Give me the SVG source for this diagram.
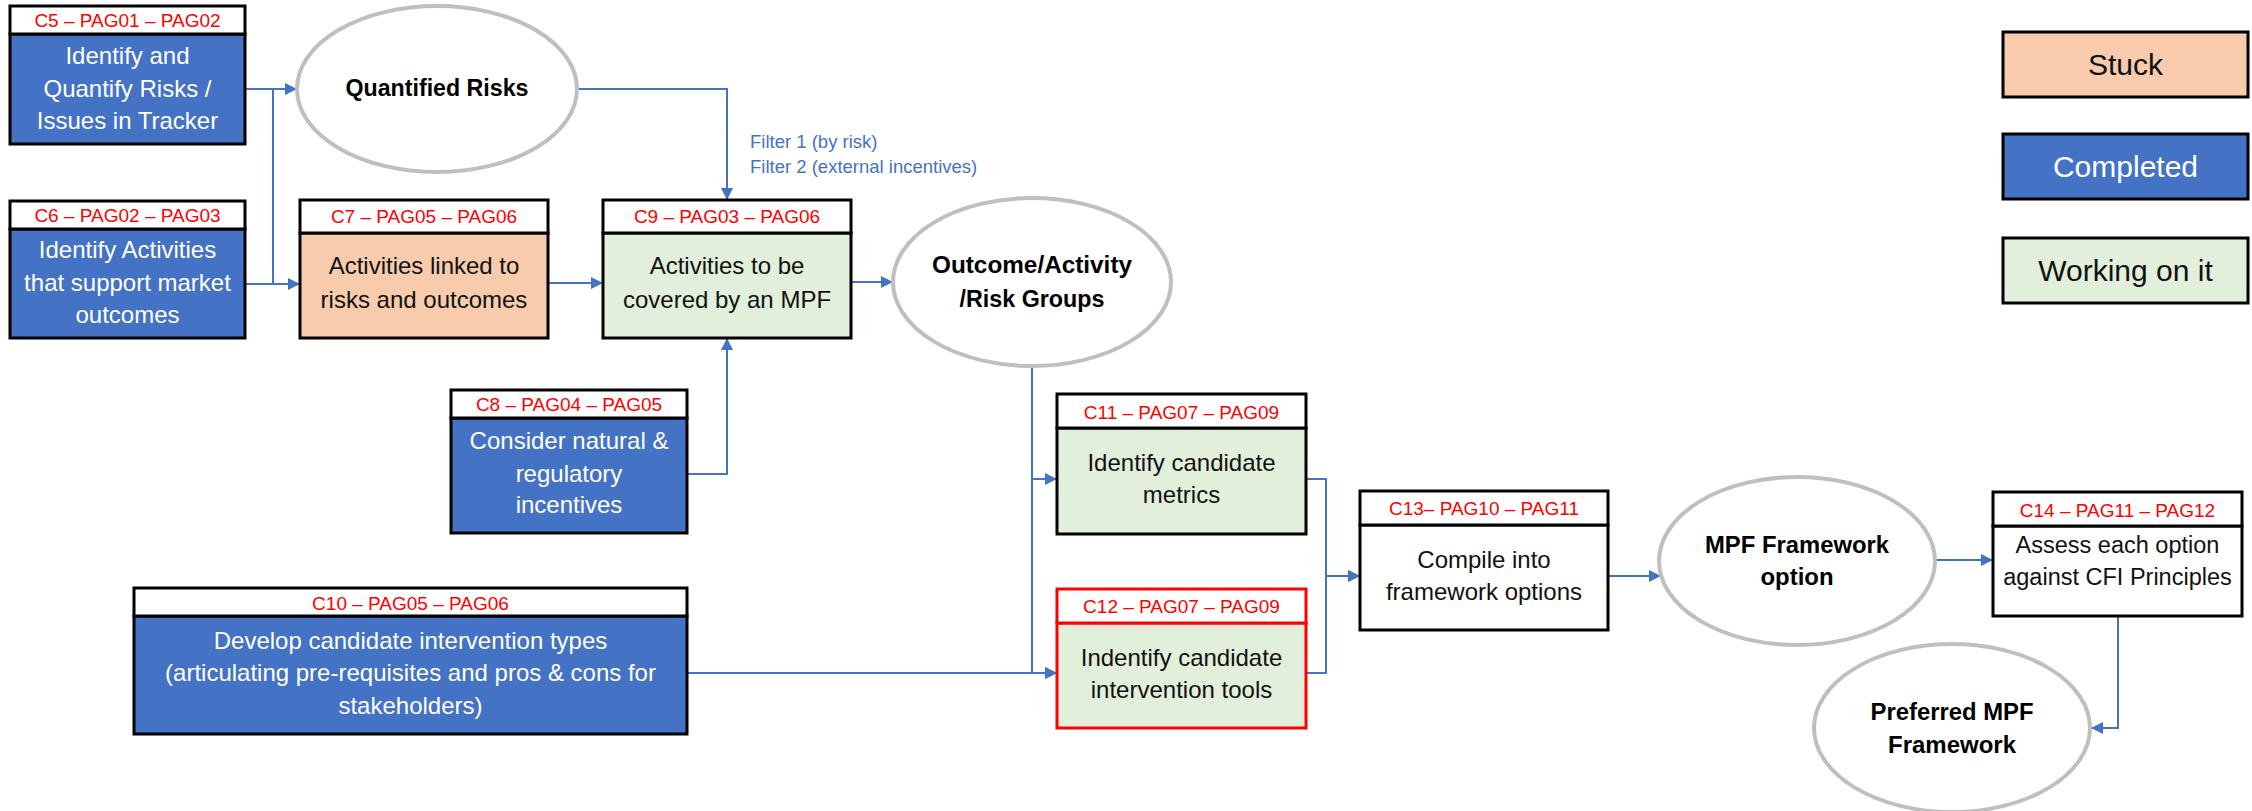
<svg xmlns="http://www.w3.org/2000/svg" width="2252" height="811" viewBox="0 0 2252 811">
  <style>
    .box { stroke: #000; stroke-width: 3; }
    .hdr { fill: #fff; stroke: #000; stroke-width: 3; }
    .done { fill: #4472C4; }
    .stuck { fill: #F8CBAD; }
    .work { fill: #E2EFDA; }
    .plain { fill: #fff; }
    .red { stroke: #FF0000; }
    .tag { font-family: "Liberation Sans", Arial, sans-serif; font-size: 19px; fill: #FF0000; text-anchor: middle; }
    .txt { font-family: "Liberation Sans", Arial, sans-serif; font-size: 24px; fill: #111; text-anchor: middle; }
    .wht { fill: #fff; }
    .oval { fill: #fff; stroke: #BFBFBF; stroke-width: 4; }
    .otxt { font-family: "Liberation Sans", Arial, sans-serif; font-size: 23px; font-weight: bold; fill: #000; text-anchor: middle; }
    .lnk { fill: none; stroke: #4472C4; stroke-width: 2; }
    .arr { marker-end: url(#head); }
    .note { font-family: "Liberation Sans", Arial, sans-serif; font-size: 18.5px; fill: #4472C4; }
    .leg { font-family: "Liberation Sans", Arial, sans-serif; font-size: 30px; text-anchor: middle; }
  </style>
  <defs>
    <marker id="head" viewBox="0 0 12 12" refX="12" refY="6" markerWidth="12" markerHeight="12" markerUnits="userSpaceOnUse" orient="auto">
      <path d="M0,0 L12,6 L0,12 Z" fill="#4472C4"/>
    </marker>
  </defs>

  <rect width="2252" height="811" fill="#fff"/>

  <!-- connectors -->
  <g id="connectors">
    <path class="lnk arr" d="M245,89 H273 V284 H300"/>
    <path class="lnk arr" d="M245,284 H273 V89 H297"/>
    <path class="lnk arr" d="M577,89 H727 V200"/>
    <path class="lnk arr" d="M548,283 H603"/>
    <path class="lnk arr" d="M687,474 H727 V338"/>
    <path class="lnk arr" d="M851,282 H893"/>
    <path class="lnk arr" d="M1032,366 V479 H1057"/>
    <path class="lnk arr" d="M1032,366 V673 H1057"/>
    <path class="lnk arr" d="M687,673 H1057"/>
    <path class="lnk arr" d="M1306,479 H1326 V576 H1360"/>
    <path class="lnk arr" d="M1306,673 H1326 V576 H1360"/>
    <path class="lnk arr" d="M1608,576 H1661"/>
    <path class="lnk arr" d="M1935,560 H1993"/>
    <path class="lnk arr" d="M2118,616 V728 H2091"/>
    <text class="note" x="750" y="148">Filter 1 (by risk)</text>
    <text class="note" x="750" y="173">Filter 2 (external incentives)</text>
  </g>

  <!-- C5 -->
  <g id="c5">
    <rect class="box done" x="10" y="34" width="235" height="110"/>
    <rect class="hdr" x="10" y="6" width="235" height="28"/>
    <text class="tag" x="127.5" y="27">C5 – PAG01 – PAG02</text>
    <text class="txt wht" x="127.5" y="64">Identify and</text>
    <text class="txt wht" x="127.5" y="97">Quantify Risks /</text>
    <text class="txt wht" x="127.5" y="129">Issues in Tracker</text>
  </g>

  <!-- C6 -->
  <g id="c6">
    <rect class="box done" x="10" y="229" width="235" height="109"/>
    <rect class="hdr" x="10" y="201" width="235" height="28"/>
    <text class="tag" x="127.5" y="222">C6 – PAG02 – PAG03</text>
    <text class="txt wht" x="127.5" y="258">Identify Activities</text>
    <text class="txt wht" x="127.5" y="291">that support market</text>
    <text class="txt wht" x="127.5" y="323">outcomes</text>
  </g>

  <!-- Quantified Risks -->
  <g id="quantified-risks">
    <ellipse class="oval" cx="437" cy="89" rx="140" ry="83"/>
    <text class="otxt" x="437" y="96" textLength="183" lengthAdjust="spacingAndGlyphs">Quantified Risks</text>
  </g>

  <!-- C7 -->
  <g id="c7">
    <rect class="box stuck" x="300" y="233" width="248" height="105"/>
    <rect class="hdr" x="300" y="200" width="248" height="33"/>
    <text class="tag" x="424" y="223">C7 – PAG05 – PAG06</text>
    <text class="txt" x="424" y="274">Activities linked to</text>
    <text class="txt" x="424" y="308">risks and outcomes</text>
  </g>

  <!-- C9 -->
  <g id="c9">
    <rect class="box work" x="603" y="233" width="248" height="105"/>
    <rect class="hdr" x="603" y="200" width="248" height="33"/>
    <text class="tag" x="727" y="223">C9 – PAG03 – PAG06</text>
    <text class="txt" x="727" y="274">Activities to be</text>
    <text class="txt" x="727" y="308">covered by an MPF</text>
  </g>

  <!-- C8 -->
  <g id="c8">
    <rect class="box done" x="451" y="418" width="236" height="115"/>
    <rect class="hdr" x="451" y="390" width="236" height="28"/>
    <text class="tag" x="569" y="411">C8 – PAG04 – PAG05</text>
    <text class="txt wht" x="569" y="449">Consider natural &amp;</text>
    <text class="txt wht" x="569" y="482">regulatory</text>
    <text class="txt wht" x="569" y="513">incentives</text>
  </g>

  <!-- Outcome/Activity/Risk Groups -->
  <g id="groups">
    <ellipse class="oval" cx="1032" cy="282" rx="139" ry="84"/>
    <text class="otxt" x="1032" y="273" textLength="200" lengthAdjust="spacingAndGlyphs">Outcome/Activity</text>
    <text class="otxt" x="1032" y="307" textLength="145" lengthAdjust="spacingAndGlyphs">/Risk Groups</text>
  </g>

  <!-- C10 -->
  <g id="c10">
    <rect class="box done" x="134" y="616" width="553" height="118" stroke-width="4"/>
    <rect class="hdr" x="134" y="588" width="553" height="28"/>
    <text class="tag" x="410.5" y="610">C10 – PAG05 – PAG06</text>
    <text class="txt wht" x="410.5" y="649">Develop candidate intervention types</text>
    <text class="txt wht" x="410.5" y="681">(articulating pre-requisites and pros &amp; cons for</text>
    <text class="txt wht" x="410.5" y="714">stakeholders)</text>
  </g>

  <!-- C11 -->
  <g id="c11">
    <rect class="box work" x="1057" y="428" width="249" height="106"/>
    <rect class="hdr" x="1057" y="394" width="249" height="34"/>
    <text class="tag" x="1181.5" y="419">C11 – PAG07 – PAG09</text>
    <text class="txt" x="1181.5" y="471">Identify candidate</text>
    <text class="txt" x="1181.5" y="503">metrics</text>
  </g>

  <!-- C12 -->
  <g id="c12">
    <rect class="box work red" x="1057" y="623" width="249" height="105"/>
    <rect class="hdr red" x="1057" y="589" width="249" height="34"/>
    <text class="tag" x="1181.5" y="613">C12 – PAG07 – PAG09</text>
    <text class="txt" x="1181.5" y="666">Indentify candidate</text>
    <text class="txt" x="1181.5" y="698">intervention tools</text>
  </g>

  <!-- C13 -->
  <g id="c13">
    <rect class="box plain" x="1360" y="525" width="248" height="105"/>
    <rect class="hdr" x="1360" y="491" width="248" height="34"/>
    <text class="tag" x="1484" y="515">C13– PAG10 – PAG11</text>
    <text class="txt" x="1484" y="568">Compile into</text>
    <text class="txt" x="1484" y="600">framework options</text>
  </g>

  <!-- MPF Framework option -->
  <g id="mpf-option">
    <ellipse class="oval" cx="1797" cy="561" rx="138" ry="84"/>
    <text class="otxt" x="1797" y="553" textLength="184" lengthAdjust="spacingAndGlyphs">MPF Framework</text>
    <text class="otxt" x="1797" y="585" textLength="73" lengthAdjust="spacingAndGlyphs">option</text>
  </g>

  <!-- C14 -->
  <g id="c14">
    <rect class="box plain" x="1993" y="526" width="249" height="90"/>
    <rect class="hdr" x="1993" y="492" width="249" height="34"/>
    <text class="tag" x="2117.5" y="517">C14 – PAG11 – PAG12</text>
    <text class="txt" x="2117.5" y="553" style="font-size:23.5px">Assess each option</text>
    <text class="txt" x="2117.5" y="585" style="font-size:23.5px">against CFI Principles</text>
  </g>

  <!-- Preferred MPF Framework -->
  <g id="preferred">
    <ellipse class="oval" cx="1952" cy="728" rx="138" ry="84"/>
    <text class="otxt" x="1952" y="720" textLength="163" lengthAdjust="spacingAndGlyphs">Preferred MPF</text>
    <text class="otxt" x="1952" y="753" textLength="128" lengthAdjust="spacingAndGlyphs">Framework</text>
  </g>

  <!-- status key -->
  <g id="legend-stuck">
    <rect class="box stuck" x="2003" y="32" width="245" height="65"/>
    <text class="leg" x="2125.5" y="75" fill="#111">Stuck</text>
  </g>
  <g id="legend-completed">
    <rect class="box done" x="2003" y="134" width="245" height="65"/>
    <text class="leg" x="2125.5" y="177" fill="#fff">Completed</text>
  </g>
  <g id="legend-working">
    <rect class="box work" x="2003" y="238" width="245" height="65"/>
    <text class="leg" x="2125.5" y="281" fill="#111">Working on it</text>
  </g>
</svg>
